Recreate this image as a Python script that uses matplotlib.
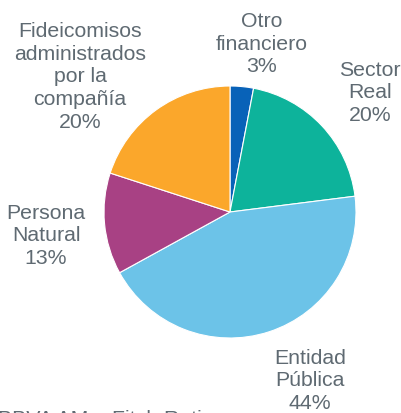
import matplotlib
matplotlib.use("Agg")
import matplotlib.pyplot as plt
from matplotlib.patches import Rectangle

# Data (clockwise from the top)
labels = ["Otro\nfinanciero", "Sector\nReal", "Entidad\nPública",
          "Persona\nNatural", "Fideicomisos\nadministrados\npor la\ncompañía"]
shares = [3, 20, 44, 13, 20]
colors = ["#0862b8", "#0db39b", "#6cc3e8", "#a84184", "#fba72b"]
source = "BBVA AM – Fitch Ratings"

plt.rcParams["font.family"] = ["Liberation Sans", "DejaVu Sans"]
text_color = "#5f6a72"

W, H = 401, 414
fig = plt.figure(figsize=(W / 100, H / 100), dpi=100)
ax = fig.add_axes([0, 0, 1, 1])

ax.pie(shares, colors=colors, startangle=90, counterclock=False,
       center=(230, H - 213), radius=126, frame=True,
       wedgeprops=dict(edgecolor="white", linewidth=0.8))
ax.set_xlim(0, W)
ax.set_ylim(0, H)
ax.set_aspect("equal")
ax.axis("off")

# label positions in pixel coordinates (x, y from top)
label_pos = [(262, 44), (370, 93), (310, 381), (46, 236), (80, 77)]
for lab, val, (x, y) in zip(labels, shares, label_pos):
    ax.text(x, H - y, f"{lab}\n{val}%", ha="center", va="center",
            fontsize=15.3, color=text_color, linespacing=1.25)

t = ax.text(-2, H - 410, source, ha="left", va="top", fontsize=15.3,
            color=text_color)
clip = Rectangle((0, 0), 213, H, transform=ax.transData, visible=False)
ax.add_patch(clip)
t.set_clip_path(clip)

fig.savefig("out.png", dpi=100)
